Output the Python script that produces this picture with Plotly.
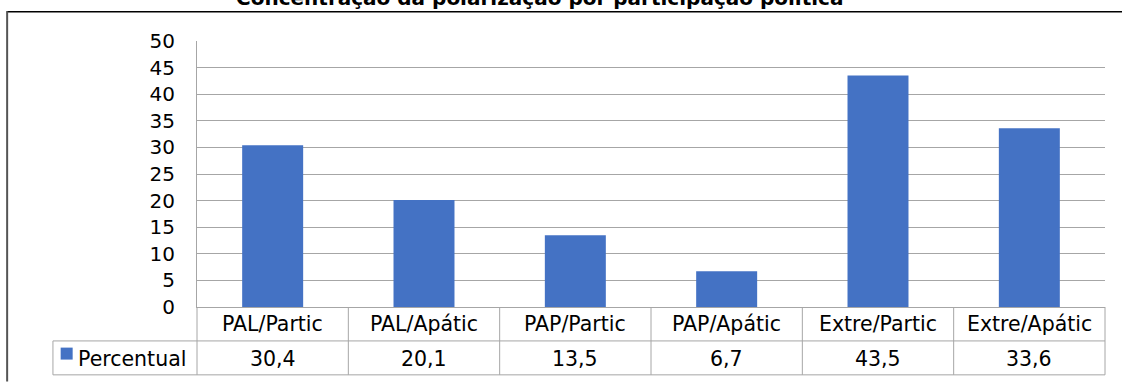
import plotly.graph_objects as go

categories = ["PAL/Partic", "PAL/Apátic", "PAP/Partic", "PAP/Apátic", "Extre/Partic", "Extre/Apátic"]
values = [30.4, 20.1, 13.5, 6.7, 43.5, 33.6]
value_labels = ["30,4", "20,1", "13,5", "6,7", "43,5", "33,6"]
series_name = "Percentual"
title_text = "Concentração da polarização por participação política"
y_ticks = [0, 5, 10, 15, 20, 25, 30, 35, 40, 45, 50]

W, H = 1122, 382
L, R, T, B = 197.3, 1105.0, 40.7, 307.3
FONT = "DejaVu Sans"
GRID = "#A6A6A6"
BLUE = "#4472C4"


def px(x):
    return (x - L) / (R - L)


def py(y):
    return (B - y) / (B - T)


fig = go.Figure()
fig.add_trace(go.Bar(x=list(range(len(categories))), y=values, marker=dict(color=BLUE, line=dict(width=0)),
                     name=series_name, showlegend=False, hoverinfo="skip"))

shapes = []
annotations = []

def line(x0, y0, x1, y1, color=GRID, width=1):
    shapes.append(dict(type="line", xref="paper", yref="paper", x0=px(x0), y0=py(y0), x1=px(x1), y1=py(y1),
                       line=dict(color=color, width=width), layer="above"))

# chart frame
line(7, 11.5, 1122, 11.5, color="#000000", width=1.5)
line(7.5, 11, 7.5, 382, color="#555555", width=2)

# data table
row1 = 341.3
row2 = 375.3
label_left = 53.3
colw = (R - L) / len(categories)
line(label_left, row1, R, row1)
line(label_left, row2, R, row2)
line(label_left, row1, label_left, row2)
for k in range(len(categories) + 1):
    xk = L + k * colw
    line(xk, B, xk, row2)

TF = dict(family=FONT, size=20.5, color="#000000")
for i, (c, v) in enumerate(zip(categories, value_labels)):
    cx = L + (i + 0.5) * colw
    annotations.append(dict(xref="paper", yref="paper", x=px(cx), y=py((B + row1) / 2), text=c, showarrow=False,
                            xanchor="center", yanchor="middle", font=TF))
    annotations.append(dict(xref="paper", yref="paper", x=px(cx), y=py((row1 + row2) / 2 + 1), text=v, showarrow=False,
                            xanchor="center", yanchor="middle", font=TF))

# legend key in table
shapes.append(dict(type="rect", xref="paper", yref="paper", x0=px(61), x1=px(73), y0=py(348), y1=py(360),
                   fillcolor=BLUE, line=dict(width=0)))
annotations.append(dict(xref="paper", yref="paper", x=px(76.5), y=py((row1 + row2) / 2 + 1), text=series_name,
                        showarrow=False, xanchor="left", yanchor="middle", font=TF))

# title (cut off at top)
annotations.append(dict(xref="paper", yref="paper", x=px(540), y=py(12), text="<b>" + title_text + "</b>",
                        showarrow=False, xanchor="center", yanchor="bottom",
                        font=dict(family=FONT, size=20, color="#000000")))

fig.update_layout(
    width=W, height=H,
    margin=dict(l=L, r=W - R, t=T, b=H - B, pad=0),
    paper_bgcolor="white", plot_bgcolor="white",
    bargap=0.597,
    shapes=shapes, annotations=annotations,
    xaxis=dict(range=[-0.5, len(categories) - 0.5], showticklabels=False, showgrid=False, zeroline=False,
               showline=True, linecolor=GRID, linewidth=1, ticks=""),
    yaxis=dict(range=[0, 50], tickvals=y_ticks, showgrid=True, gridcolor=GRID, gridwidth=1, zeroline=False,
               showline=True, linecolor=GRID, linewidth=1, ticks="", ticklabelstandoff=17,
               tickfont=dict(family=FONT, size=20, color="#000000")),
    font=dict(family=FONT),
)

fig.write_html("out.html", config={"displayModeBar": False},
               post_script="document.body.style.margin='0';document.body.style.overflow='hidden';")
